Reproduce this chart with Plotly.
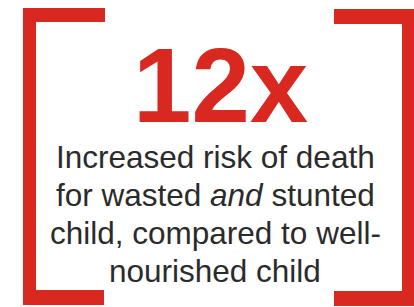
import plotly.graph_objects as go

# ---- content ----
headline_value = [12]
headline_suffix = ["x"]
body_lines = [
    "Increased risk of death",
    "for wasted <i>and</i> stunted",
    "child, compared to well-",
    "nourished child",
]

RED = "#D8281F"
TEXT = "#2B2B2B"
W, H = 414, 307

fig = go.Figure()
fig.add_trace(go.Scatter(x=[0, W], y=[0, H], mode="markers",
                         marker=dict(opacity=0), hoverinfo="skip", showlegend=False))

# brackets
rects = [
    (23, 8, 36, 305), (23, 8, 105, 22), (23, 290, 104, 305),      # left
    (402, 9, 414, 306), (334, 9, 414, 24), (334, 291, 414, 306),   # right
]
for x0, y0, x1, y1 in rects:
    fig.add_shape(type="rect", x0=x0, y0=y0, x1=x1, y1=y1, xref="x", yref="y",
                  line=dict(width=0), fillcolor=RED, layer="below")

fig.add_annotation(x=220, y=85, xref="x", yref="y",
                   text=f"<b>{headline_value[0]}{headline_suffix[0]}</b>",
                   showarrow=False, xanchor="center", yanchor="middle",
                   font=dict(family="Liberation Sans, Arial", size=105, color=RED))

line_y = [157, 195, 233, 271]
for txt, yy in zip(body_lines, line_y):
    fig.add_annotation(x=215, y=yy, xref="x", yref="y", text=txt,
                       showarrow=False, xanchor="center", yanchor="middle",
                       font=dict(family="Liberation Sans, Arial", size=31.5, color=TEXT))

fig.update_layout(
    width=W, height=H, margin=dict(l=0, r=0, t=0, b=0),
    paper_bgcolor="white", plot_bgcolor="white",
    xaxis=dict(range=[0, W], visible=False, fixedrange=True),
    yaxis=dict(range=[H, 0], visible=False, fixedrange=True),
    showlegend=False,
)
fig.write_html("out.html", config={"displayModeBar": False},
               post_script="document.body.style.margin='0';document.body.style.overflow='hidden';")
